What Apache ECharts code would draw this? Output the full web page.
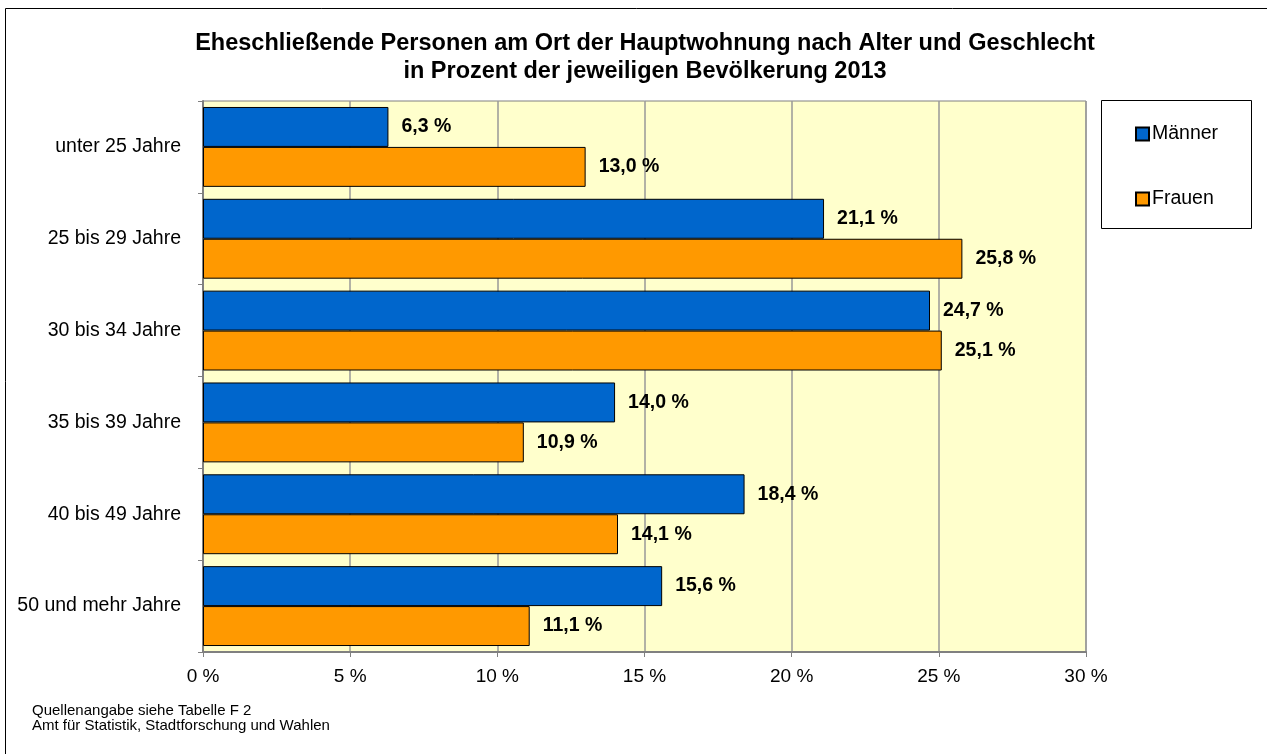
<!DOCTYPE html>
<html>
<head>
<meta charset="utf-8">
<script src="https://cdn.jsdelivr.net/npm/echarts@6/dist/echarts.min.js"></script>
<style>
  html, body { margin: 0; padding: 0; background: #fff; }
  #chart { width: 1267px; height: 754px; }
</style>
</head>
<body>
<div id="chart"></div>
<script>
const categories = ['unter 25 Jahre', '25 bis 29 Jahre', '30 bis 34 Jahre', '35 bis 39 Jahre', '40 bis 49 Jahre', '50 und mehr Jahre'];
const maenner = [6.3, 21.1, 24.7, 14.0, 18.4, 15.6];
const frauen = [13.0, 25.8, 25.1, 10.9, 14.1, 11.1];
const xTicks = [0, 5, 10, 15, 20, 25, 30];

const font = 'Arial, "Liberation Sans", sans-serif';
const chart = echarts.init(document.getElementById('chart'));

// 6.3 -> "6,3 %"
const fmt = v => v.toFixed(1).replace('.', ',') + ' %';

const barLabel = {
    show: true,
    position: 'right',
    distance: 13,
    fontFamily: font,
    fontSize: 19.5,
    fontWeight: 'bold',
    color: '#000',
    formatter: p => fmt(p.value)
};

chart.setOption({
    backgroundColor: '#fff',
    animation: false,
    title: {
        text: 'Eheschließende Personen am Ort der Hauptwohnung nach Alter und Geschlecht\nin Prozent der jeweiligen Bevölkerung 2013',
        left: 640,
        textAlign: 'center',
        top: 25,
        textStyle: {
            fontFamily: font,
            fontSize: 23.5,
            fontWeight: 'bold',
            color: '#000',
            lineHeight: 28
        }
    },
    graphic: [
        {
            type: 'rect',
            shape: { x: 5.5, y: 8.5, width: 1280, height: 760 },
            style: { fill: 'none', stroke: '#000', lineWidth: 1 },
            z: -10
        },
        {
            type: 'rect',
            shape: { x: 1101.5, y: 100.5, width: 150, height: 128 },
            style: { fill: '#fff', stroke: '#000', lineWidth: 1 },
            z: 0
        },
        {
            type: 'text',
            left: 32,
            top: 703,
            style: {
                text: 'Quellenangabe siehe Tabelle F 2\nAmt für Statistik, Stadtforschung und Wahlen',
                font: '15px ' + font,
                fill: '#000',
                lineHeight: 15
            }
        }
    ],
    legend: {
        orient: 'vertical',
        left: 1135,
        top: 124,
        itemGap: 45,
        itemWidth: 13,
        itemHeight: 13,
        icon: 'rect',
        padding: 0,
        textStyle: { fontFamily: font, fontSize: 19.5, lineHeight: 20, color: '#000', padding: [0, 0, 0, -2] },
        data: ['Männer', 'Frauen']
    },
    grid: {
        left: 203,
        right: 181,
        top: 101,
        bottom: 102,
        show: true,
        backgroundColor: '#FFFFCC',
        borderWidth: 1,
        borderColor: '#808080'
    },
    xAxis: {
        type: 'value',
        min: 0,
        max: 30,
        interval: 5,
        axisLine: { show: true, lineStyle: { color: '#808080', width: 2 } },
        axisTick: { show: true, length: 5, lineStyle: { color: '#808080' } },
        axisLabel: {
            fontFamily: font, fontSize: 19, color: '#000', margin: 15,
            formatter: v => xTicks.includes(v) ? v + ' %' : ''
        },
        splitLine: { show: true, lineStyle: { color: '#999', width: 1.5 } }
    },
    yAxis: {
        type: 'category',
        inverse: true,
        data: categories,
        axisLine: { show: true, lineStyle: { color: '#808080', width: 2 } },
        axisTick: { show: true, length: 5, lineStyle: { color: '#808080' } },
        axisLabel: { fontFamily: font, fontSize: 19.5, color: '#000', margin: 22 }
    },
    series: [
        {
            name: 'Männer',
            type: 'bar',
            data: maenner,
            barGap: '0%',
            barCategoryGap: '13%',
            itemStyle: { color: '#0066CC', borderColor: '#000', borderWidth: 1 },
            label: barLabel
        },
        {
            name: 'Frauen',
            type: 'bar',
            data: frauen,
            itemStyle: { color: '#FF9900', borderColor: '#000', borderWidth: 1 },
            label: barLabel
        }
    ]
});
</script>
</body>
</html>
